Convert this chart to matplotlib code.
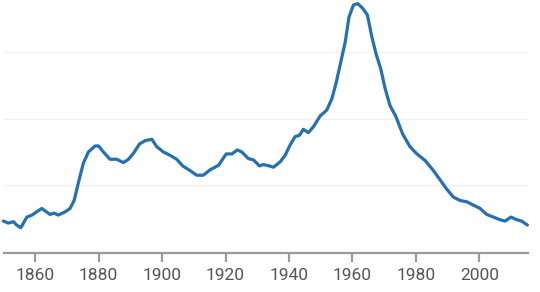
import matplotlib.pyplot as plt

# values (grid units, gridlines at 1, 2, 3)
years = [1850, 1851.6, 1853.2, 1854.2, 1855.5, 1857.4, 1859, 1862.1, 1864.7, 1866,
         1867.3, 1869.5, 1871, 1872.3, 1873.6, 1875.2, 1876.8, 1878.9, 1880, 1881.5,
         1883.6, 1885.7, 1887.8, 1889.4, 1891, 1892.9, 1894.7, 1896.8, 1898.3, 1900.4,
         1902.5, 1904.6, 1906.5, 1908.8, 1910.9, 1913, 1915.1, 1917.8, 1920.2, 1922,
         1923.7, 1925.1, 1927.2, 1928.8, 1930.7, 1931.9, 1933.8, 1935.1, 1937.2, 1938.8,
         1940.3, 1941.9, 1943.3, 1944.5, 1946.1, 1947.7, 1949.8, 1951.9, 1953.5, 1954.8,
         1956.3, 1957.7, 1958.9, 1960.3, 1961.7, 1963.2, 1964.7, 1966.1, 1967.4, 1968.9,
         1970.3, 1971.8, 1973.7, 1975.8, 1978.1, 1980.3, 1982.9, 1985.5, 1987.6, 1989.7,
         1991.8, 1993.9, 1996, 1998.1, 2000.2, 2002.3, 2004.4, 2006.5, 2008.1, 2009.9,
         2011.8, 2013.3, 2015.1]
values = [0.46, 0.43, 0.45, 0.40, 0.36, 0.52, 0.55, 0.65, 0.56, 0.58,
          0.55, 0.60, 0.65, 0.77, 1.03, 1.33, 1.50, 1.59, 1.59, 1.50,
          1.39, 1.39, 1.34, 1.39, 1.48, 1.62, 1.67, 1.69, 1.58, 1.50,
          1.45, 1.39, 1.29, 1.22, 1.15, 1.15, 1.23, 1.30, 1.47, 1.47,
          1.53, 1.50, 1.40, 1.38, 1.29, 1.31, 1.29, 1.27, 1.35, 1.45,
          1.60, 1.73, 1.75, 1.84, 1.79, 1.88, 2.04, 2.13, 2.30, 2.53,
          2.85, 3.15, 3.53, 3.71, 3.73, 3.66, 3.56, 3.23, 2.98, 2.75,
          2.45, 2.20, 2.03, 1.77, 1.58, 1.47, 1.37, 1.22, 1.08, 0.94,
          0.82, 0.77, 0.75, 0.70, 0.65, 0.56, 0.52, 0.48, 0.46, 0.52,
          0.48, 0.46, 0.40]
xticks = [1860, 1880, 1900, 1920, 1940, 1960, 1980, 2000]
grid_levels = [1, 2, 3]

plt.rcParams['font.family'] = ['Roboto', 'DejaVu Sans']

fig = plt.figure(figsize=(5.4, 2.92), dpi=100)
ax = fig.add_axes([4 / 540, 1 - 253 / 292, 524 / 540, 253 / 292])

for g in grid_levels:
    ax.axhline(g, color='#f0f0f0', linewidth=1, zorder=0)

ax.plot(years, values, color='#2470b0', linewidth=2.3, solid_capstyle='round',
        solid_joinstyle='round', clip_on=False)

ax.set_xlim(1850.2, 2015.3)
ax.set_ylim(-0.02, 3.785)
ax.set_xticks(xticks)
ax.set_yticks([])

for side in ['top', 'right', 'left']:
    ax.spines[side].set_visible(False)
ax.spines['bottom'].set_color('#9a9a9a')
ax.spines['bottom'].set_linewidth(1.6)
ax.tick_params(axis='x', length=6.5, width=1.6, color='#9a9a9a',
               labelsize=12.5, labelcolor='#555555', pad=4)

fig.savefig('out.png', dpi=100)
